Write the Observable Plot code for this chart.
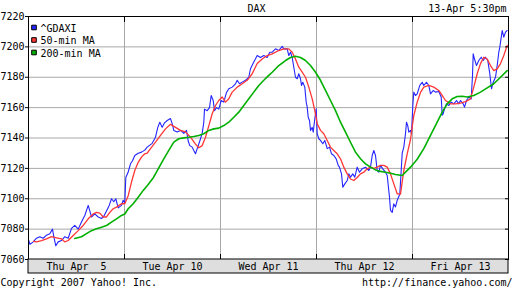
<!DOCTYPE html>
<html><head><meta charset="utf-8">
<script src="https://cdn.jsdelivr.net/npm/d3@7"></script>
<script src="https://cdn.jsdelivr.net/npm/@observablehq/plot@0.6"></script>
<style>
html,body{margin:0;padding:0;background:#fff;}
svg text{white-space:pre;}
</style></head><body><div id="chart"></div>
<script>
// Trading days shown (x axis), each day = 96 time slots
const days = ["Thu Apr  5", "Tue Apr 10", "Wed Apr 11", "Thu Apr 12", "Fri Apr 13"];
const slotsPerDay = 96;
const yTicks = [7060, 7080, 7100, 7120, 7140, 7160, 7180, 7200, 7220];
const title = "DAX";
const stamp = "13-Apr 5:30pm";
const copyright = "Copyright 2007 Yahoo! Inc.";
const source = "http://finance.yahoo.com/";
const seriesNames = ["^GDAXI", "50-min MA", "200-min MA"];
const seriesColors = ["#2424ff", "#ff3636", "#00b000"];

// [time slot, index value]
const gdaxi = [
[0,7073],[1.5,7070],[4.7,7071.6],[8,7074],[11.3,7075],[14.7,7074],[18,7076],[21.3,7077],[24,7080],[25.3,7075],[27.3,7069],[29.7,7071.6],[33,7072.5],[36.3,7075],[39.7,7074],[43,7080.5],[46.3,7082.5],[49.7,7080],[53,7084.7],[56.3,7089],[59.7,7095.6],[61.3,7092],[63,7088],[66.3,7090],[69.7,7088],[73,7087],[75.3,7088.5],[78,7092],[80.7,7095.6],[83,7100],[85.3,7098],[87.3,7100],[89.7,7094],[93,7095.6],[94.7,7099],[96.3,7097],[97.3,7114],[99.7,7117.6],[102,7123],[104,7125],[106.3,7128.5],[109.7,7130],[113,7130.7],[116.3,7132],[118.7,7134],[123.7,7136.5],[127,7140.5],[129.3,7147],[131.3,7150.4],[133.7,7147],[136,7150],[138.7,7151.5],[142,7152.8],[143.7,7149.5],[145.3,7145],[148.7,7144],[152,7145],[155.3,7143],[158,7145],[159.7,7138],[161.3,7135],[163.7,7134],[165.3,7131.8],[167,7129.6],[168.7,7133],[171.3,7138],[173.7,7143],[175.3,7150.4],[176,7159],[178.7,7158],[181,7160],[182.7,7168],[184.7,7164.7],[186,7158],[188,7160],[190.3,7159],[192.7,7164.7],[195.3,7163.6],[198,7170],[200.3,7172.4],[203.7,7173.5],[207,7175.7],[208.7,7178],[211,7175.7],[213.7,7176.8],[217,7178],[220.3,7180],[222,7185.6],[225.3,7190],[228.7,7194.3],[232,7193],[235.3,7194.3],[238.7,7193],[241.3,7196.5],[243.7,7196.5],[247,7198.7],[250.3,7197.6],[253.7,7200.3],[255.3,7198.7],[258.7,7198.7],[260.3,7194.3],[262,7196.5],[263.7,7193],[265.3,7186.6],[267,7180],[268.7,7179],[270.3,7182.3],[272,7179],[273,7174.6],[274.3,7176.7],[276.3,7173.5],[277.7,7163.6],[278.7,7160.3],[279.7,7153.7],[281,7151.5],[282,7145],[283.7,7147],[284.7,7143.8],[286.3,7152.6],[287.7,7159.2],[288.7,7142.8],[290.3,7139.5],[292,7138.4],[294.3,7136.2],[296.3,7138.4],[298.7,7133],[301,7134],[303,7129.6],[305.3,7128.5],[307.7,7126.3],[309.7,7122],[311,7120.8],[313,7116.4],[314.3,7107.6],[316.3,7109.8],[318.7,7112],[320.3,7116.4],[322,7114.2],[324.3,7116.4],[326.3,7114.2],[328.7,7120.8],[331,7117.5],[333.7,7119.7],[337,7120.8],[340.3,7118.6],[342,7120.8],[343.7,7128.5],[345.3,7131.8],[347,7128.5],[348.7,7118.6],[350.3,7117.5],[352,7122],[354.3,7119.7],[357,7117.5],[358.7,7115.3],[361,7101],[362,7092.3],[363.7,7091],[365.3,7096.6],[367,7094.6],[368.7,7099],[371.3,7103],[372.7,7118.6],[373.7,7130],[375.3,7134],[377,7143],[378,7150.4],[379.3,7148],[380.3,7143.8],[382,7145],[383,7142.8],[384.3,7161.4],[385.3,7170.2],[387,7168],[388.7,7169],[391.3,7174.6],[393.7,7176.7],[395.3,7174.6],[398,7176.7],[400.3,7174.6],[402,7169],[404.7,7171.3],[407,7170.2],[410.3,7170.6],[412.7,7167],[413.7,7155],[414.7,7156],[416,7159.2],[418,7162.5],[420.3,7161.4],[422.7,7163.6],[425.3,7162.5],[428,7164.7],[430.3,7162.5],[432,7164.7],[434.7,7162.5],[436,7160.3],[438,7164.7],[440.3,7167],[442.7,7165.8],[444,7181],[444.7,7195.4],[446,7192],[448,7187.7],[450.3,7191],[452.7,7193.2],[454.7,7191],[457,7193.2],[459.3,7191],[461.3,7182.3],[463,7172.4],[464.7,7176.7],[467,7180],[468.7,7187.7],[470.3,7196.5],[471.3,7199.8],[473,7207.5],[473.7,7210.8],[475.3,7206.4],[477,7209.7],[478.7,7210.8]
];

const ma50 = [
[5,7072],[8,7071.6],[13,7072.5],[18,7073.6],[23,7075],[28,7074.3],[33,7073.6],[36.3,7071.6],[39.7,7072.5],[44.7,7075.8],[49.7,7079],[54.7,7082.4],[59.7,7086.8],[64.7,7090],[68,7091],[71.3,7090.5],[74.7,7088],[78,7088],[81.3,7091],[84.7,7093.4],[88,7094.5],[93,7096.7],[96.3,7096.7],[99.7,7102],[103,7111],[106.3,7118.6],[109.7,7124],[113,7127.4],[116.3,7129.6],[118.7,7130],[122,7133],[127,7137.3],[132,7141.7],[137,7146],[142,7149],[147,7147],[152,7145],[157,7144],[162,7140.5],[167,7136],[170.3,7133.6],[173.7,7135],[177,7140.5],[180.3,7148],[183.7,7156],[187,7161.4],[190.3,7164.7],[193.7,7167],[197,7163.6],[200.3,7165.8],[203.7,7170.2],[208.7,7173.5],[213.7,7175.7],[218.7,7178],[223.7,7182.3],[228.7,7189],[233.7,7192],[238.7,7194.3],[243.7,7195.4],[250.3,7197.6],[255.3,7198.7],[260.3,7198.7],[263.7,7196.5],[267,7192],[270.3,7186.6],[273.7,7183.3],[277,7180],[280.3,7173.5],[283.7,7165.8],[286.3,7158],[288.7,7149.4],[292,7145],[295.3,7142.8],[298.7,7138.4],[302,7134],[305.3,7131.8],[308.7,7129.6],[312,7126.3],[315.3,7120.8],[318.7,7116.4],[322,7113],[325.3,7112],[328.7,7114],[332,7116.4],[335.3,7117.5],[338.7,7119.7],[342,7120.8],[345.3,7120],[348.7,7120.8],[352,7122],[355.3,7122],[358.7,7120.8],[362,7116.4],[365.3,7109.8],[368.7,7103.3],[372,7103],[375.3,7118.6],[378.7,7129.6],[382,7139],[385.3,7154.8],[388.7,7163.6],[392,7170],[395.3,7173.5],[400.3,7174.6],[405.3,7173.5],[410.3,7171.3],[413.7,7168],[417,7164.7],[422,7162.5],[427,7162.5],[432,7163],[437,7163.9],[442,7165.8],[445.3,7173.5],[448.7,7182.3],[452,7189],[455.3,7193.2],[458.7,7192],[462,7187.7],[465.3,7184.4],[468.7,7185.5],[472,7189],[475.3,7194.3],[478.7,7201]
];

const ma200 = [
[46.3,7073.8],[53,7075],[58,7077],[63,7079],[68,7080.2],[73,7081.3],[78,7082.4],[83,7084.6],[88,7086.8],[93,7089],[96.3,7090],[99.7,7093.4],[104.7,7096.7],[109.7,7101],[114.7,7105.5],[119.7,7109.4],[125,7114],[130,7120],[135.3,7126.3],[140.3,7131.8],[145.3,7137.3],[150.3,7139.5],[155.3,7140.1],[160.3,7140.5],[165.3,7141],[170.3,7141.7],[175.3,7142.8],[180.3,7145],[185.3,7146],[190.3,7146.5],[195.3,7148.2],[200.3,7150.4],[205.3,7153.7],[210.3,7157],[215.3,7161.4],[220.3,7165.8],[225.3,7170.2],[230.3,7174.6],[235.3,7178],[240.3,7181.2],[243.7,7183.3],[250.3,7187.7],[257,7191],[262,7193],[267,7193.8],[272,7193],[277,7191],[282,7187.7],[287,7183.3],[292,7178],[297,7171.3],[302,7164.7],[307,7158],[312,7150.4],[317,7143.8],[322,7137.2],[327,7130.7],[332,7126.3],[337,7123],[342,7120.8],[347,7119],[352,7118],[357,7117.5],[362,7116.8],[367,7116],[373.7,7115.3],[382,7120.8],[388.7,7126],[395.3,7133],[402,7141.7],[408.7,7150.4],[413.7,7157],[418.7,7162.5],[423.7,7165.8],[428.7,7167.3],[433.7,7167.5],[438.7,7167],[445.3,7168],[452,7170.2],[458.7,7173],[465.3,7175.7],[472,7180],[478.7,7184.4]
];

const rows = (arr) => arr.map(([t, v]) => ({day: t / slotsPerDay, v}));
const dayBounds = d3.range(1, days.length);
const yDomain = [yTicks[0], yTicks[yTicks.length - 1]];
const font = "DejaVu Sans Mono, Liberation Mono, monospace";

const legendMarks = seriesNames.flatMap((name, i) => [
  Plot.dot([name], {frameAnchor: "top-left", dx: 5.5, dy: 11 + 12.5 * i, symbol: "square", r: 2.6,
    fill: seriesColors[i], stroke: "#000", strokeWidth: 1}),
  Plot.text([name], {frameAnchor: "top-left", dx: 12, dy: 12 + 12.5 * i, text: d => d,
    textAnchor: "start", lineAnchor: "middle", fill: "#000"})
]);

const chart = Plot.plot({
  width: 512, height: 288,
  marginLeft: 28, marginRight: 4, marginTop: 16, marginBottom: 29,
  style: {fontFamily: font, fontSize: "10px", background: "#fff", color: "#000"},
  x: {domain: [0, days.length], axis: null},
  y: {domain: yDomain, axis: null},
  marks: [
    Plot.gridY(yTicks, {stroke: "#a8a8a8", strokeOpacity: 1}),
    Plot.gridX(dayBounds, {stroke: "#a8a8a8", strokeOpacity: 1}),
    Plot.line(rows(gdaxi), {x: "day", y: "v", stroke: seriesColors[0], strokeWidth: 1.1}),
    Plot.line(rows(ma50), {x: "day", y: "v", stroke: seriesColors[1], strokeWidth: 1.3}),
    Plot.line(rows(ma200), {x: "day", y: "v", stroke: seriesColors[2], strokeWidth: 1.6}),
    Plot.frame({stroke: "#000"}),
    Plot.rect([{x1: 0, x2: days.length, y: yDomain[0]}], {x1: "x1", x2: "x2", y1: "y", y2: "y",
      insetTop: 0, insetBottom: -14, fill: "#dedede", stroke: "#000"}),
    Plot.axisY(yTicks, {anchor: "left", tickSize: 3, tickPadding: 1, tickFormat: d => String(d), fontSize: 10}),
    Plot.axisY(yTicks, {anchor: "right", tickSize: 4, dx: -4, tickFormat: () => ""}),
    Plot.axisX(dayBounds, {anchor: "top", tickSize: 5, dy: 5, tickFormat: () => ""}),
    Plot.axisX(dayBounds, {anchor: "bottom", tickSize: 5, dy: -5, tickFormat: () => ""}),
    Plot.text(days, {x: (d, i) => i + 0.5, frameAnchor: "bottom", dy: 7.5, text: d => d, lineAnchor: "middle", fill: "#000"}),
    Plot.text([title], {frameAnchor: "top", dx: -12, dy: -8, text: d => d, lineAnchor: "middle", fill: "#000"}),
    Plot.text([stamp], {frameAnchor: "top-right", dx: -2, dy: -8, text: d => d, textAnchor: "end", lineAnchor: "middle", fill: "#000"}),
    Plot.text([copyright], {frameAnchor: "bottom-left", dx: -28, dy: 23, text: d => d, textAnchor: "start", lineAnchor: "middle", fill: "#000"}),
    Plot.text([source], {frameAnchor: "bottom-right", dx: 4, dy: 23, text: d => d, textAnchor: "end", lineAnchor: "middle", fill: "#000"}),
    ...legendMarks
  ]
});
document.getElementById("chart").appendChild(chart);
</script></body></html>
